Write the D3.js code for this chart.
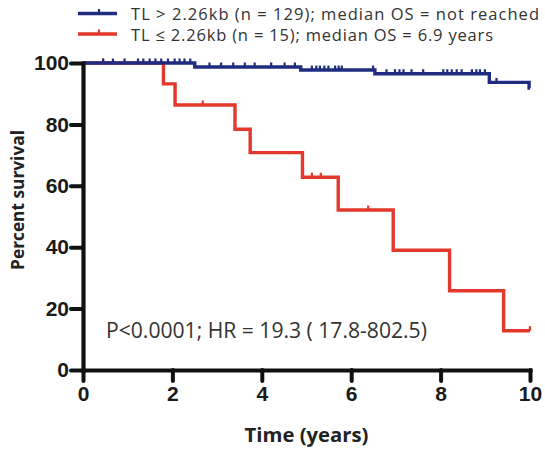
<!DOCTYPE html>
<html>
<head>
<meta charset="utf-8">
<script src="https://cdn.jsdelivr.net/npm/d3@7"></script>
<style>
  body { margin: 0; background: #fff; }
  text { font-family: "Open Sans", Lato, sans-serif; }
  .tick text { font-family: "Liberation Sans", Arial, sans-serif; font-weight: bold; font-size: 21px; fill: #1a1a1a; }
</style>
</head>
<body>
<svg id="chart" width="545" height="450"></svg>
<script>
// TL > 2.26kb group (blue)
var longTimes = [0, 2.50, 4.87, 6.53, 9.09, 9.98, 10];
var longSurv = [100, 98.7, 97.7, 96.5, 93.7, 91.8, 91.8];
var longCensor = [0.45, 0.67, 0.93, 1.23, 1.35, 1.49, 1.62, 1.75, 1.90, 2.05, 2.16, 2.27, 2.40,
  2.83, 3.09, 3.36, 3.62, 3.84, 4.21, 4.51, 4.74,
  5.12, 5.22, 5.30, 5.40, 5.49, 5.64, 5.72, 5.79, 6.49,
  6.79, 6.98, 7.08, 7.17, 7.35, 7.61, 8.06, 8.15, 8.25, 8.36, 8.47, 8.70, 8.80, 8.88, 8.99,
  9.25];

// TL <= 2.26kb group (red)
var shortTimes = [0, 1.80, 2.06, 3.40, 3.74, 4.91, 5.71, 6.94, 8.20, 9.41, 10];
var shortSurv = [100, 93.2, 86.3, 78.4, 70.8, 62.8, 52.1, 39.0, 25.8, 12.8, 12.8];
var shortCensor = [0.45, 2.68, 5.12, 5.32, 6.38, 10];

var xTicks = [0, 2, 4, 6, 8, 10];
var yTicks = [0, 20, 40, 60, 80, 100];

var legendLabels = ["TL > 2.26kb (n = 129); median OS = not reached",
                    "TL \u2264 2.26kb (n = 15); median OS = 6.9 years"];
var statsLabel = "P<0.0001; HR = 19.3 ( 17.8-802.5)";

var BLUE = "#1f2c80", RED = "#e2392c";

var svg = d3.select("#chart");
var x = d3.scaleLinear().domain([0, 10]).range([83, 530]);
var y = d3.scaleLinear().domain([0, 100]).range([370, 63]);

function survAt(times, surv, t) {
  var v = surv[0];
  for (var i = 0; i < times.length; i++) { if (times[i] <= t) v = surv[i]; }
  return v;
}

// scale a label's font so it spans the width it has in the figure
function fitWidth(sel, w) {
  var fs = +sel.attr("font-size");
  var len = sel.node().getComputedTextLength();
  if (len > 0) sel.attr("font-size", (fs * w / len).toFixed(2));
  return sel;
}

function drawCurve(times, surv, censor, color) {
  var pts = times.map(function (t, i) { return [t, surv[i]]; });
  var line = d3.line().x(function (d) { return x(d[0]); }).y(function (d) { return y(d[1]); })
    .curve(d3.curveStepAfter);
  svg.append("path").datum(pts).attr("d", line)
    .attr("fill", "none").attr("stroke", color).attr("stroke-width", 3.4);
  svg.selectAll(null).data(censor).enter().append("line")
    .attr("x1", function (d) { return x(d); }).attr("x2", function (d) { return x(d); })
    .attr("y1", function (d) { return y(survAt(times, surv, d)); })
    .attr("y2", function (d) { return y(survAt(times, surv, d)) - 4.5; })
    .attr("stroke", color).attr("stroke-width", 2.2);
}

drawCurve(shortTimes, shortSurv, shortCensor, RED);
drawCurve(longTimes, longSurv, longCensor, BLUE);

// axes
var yAxis = svg.append("g").attr("transform", "translate(83,0)")
  .call(d3.axisLeft(y).tickValues(yTicks).tickSize(12).tickSizeOuter(0).tickPadding(2));
var xAxis = svg.append("g").attr("transform", "translate(0,370)")
  .call(d3.axisBottom(x).tickValues(xTicks).tickSize(11).tickSizeOuter(0).tickPadding(5));
[yAxis, xAxis].forEach(function (a) {
  a.select(".domain").attr("stroke", "#111").attr("stroke-width", 4.2).attr("stroke-linecap", "square");
  a.selectAll(".tick line").attr("stroke", "#111").attr("stroke-width", 4).attr("stroke-linecap", "round");
});

// axis titles
fitWidth(svg.append("text").attr("transform", "translate(24,200) rotate(-90)")
  .attr("text-anchor", "middle").attr("font-weight", "bold").attr("font-size", 18)
  .attr("fill", "#222").text("Percent survival"), 140);
fitWidth(svg.append("text").attr("x", (x(0) + x(10)) / 2).attr("y", 442)
  .attr("text-anchor", "middle").attr("font-weight", "bold").attr("font-size", 19)
  .attr("fill", "#222").text("Time (years)"), 124);

// stats annotation
fitWidth(svg.append("text").attr("x", 106).attr("y", 338).attr("font-size", 17.5)
  .attr("fill", "#333").text(statsLabel), 321);

// legend (narrow original face: keep the size, stretch spacing to the same span)
[BLUE, RED].forEach(function (c, i) {
  var ly = 13.5 + i * 20.5;
  svg.append("line").attr("x1", 78).attr("x2", 117).attr("y1", ly).attr("y2", ly)
    .attr("stroke", c).attr("stroke-width", 3.4);
  svg.append("line").attr("x1", 99).attr("x2", 99).attr("y1", ly).attr("y2", ly - 4.5)
    .attr("stroke", c).attr("stroke-width", 2.2);
  svg.append("text").attr("x", 131).attr("y", 19.5 + i * 21).attr("font-size", 16.5)
    .attr("fill", "#333").attr("textLength", i === 0 ? 408 : 362)
    .attr("lengthAdjust", "spacing").text(legendLabels[i]);
});
</script>
</body>
</html>
